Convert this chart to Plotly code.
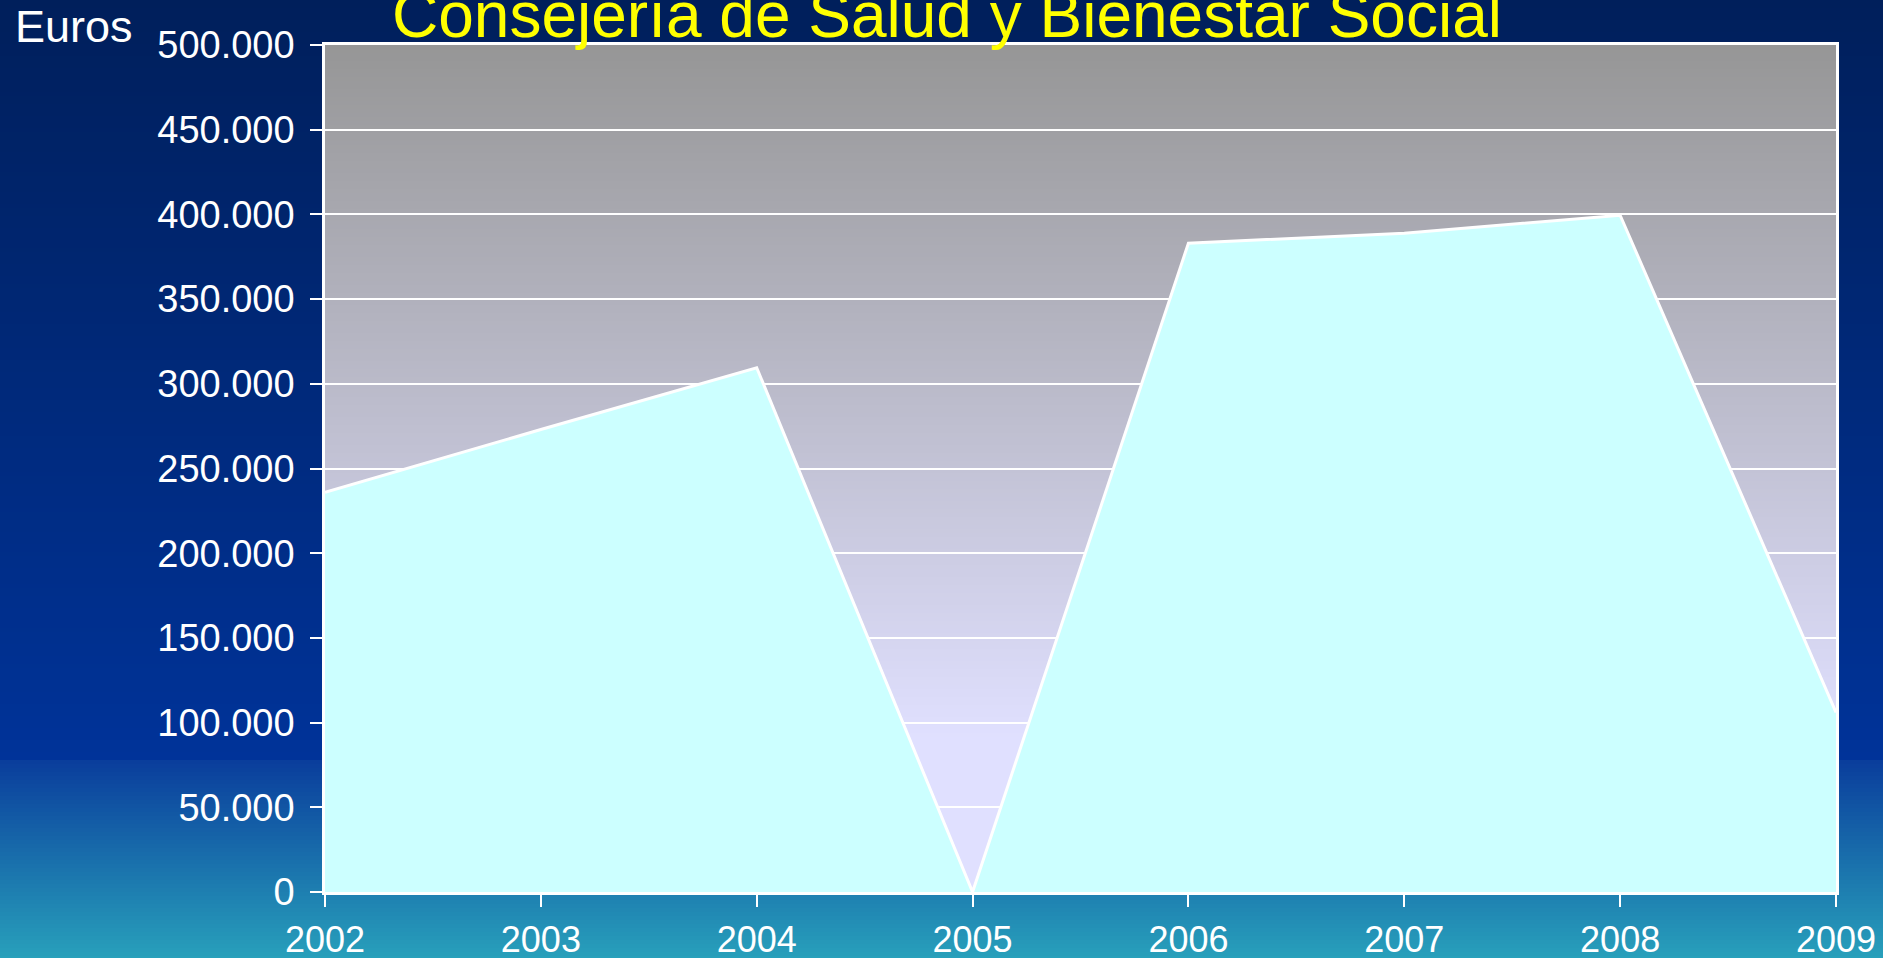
import plotly.graph_objects as go

# ---- data ----
years = [2002, 2003, 2004, 2005, 2006, 2007, 2008, 2009]
euros = [236000, 273000, 309500, 0, 383000, 388900, 399500, 106000]
y_ticks = [0, 50000, 100000, 150000, 200000, 250000, 300000, 350000, 400000, 450000, 500000]
title_text = "Consejería de Salud y Bienestar Social"
y_label = "Euros"

# ---- geometry ----
W, H = 1883, 958
ML, MR, MT, MB = 325, 47, 45, 66
PW, PH = W - ML - MR, H - MT - MB


def px_to_paper_y(py):
    return (H - MB - py) / PH


def px_to_paper_x(px):
    return (px - ML) / PW


def hex2rgb(h):
    h = h.lstrip("#")
    return tuple(int(h[i:i + 2], 16) for i in (0, 2, 4))


def interp(stops, y):
    for (y0, c0), (y1, c1) in zip(stops[:-1], stops[1:]):
        if y0 <= y <= y1:
            t = 0 if y1 == y0 else (y - y0) / (y1 - y0)
            a, b = hex2rgb(c0), hex2rgb(c1)
            return "rgb(%d,%d,%d)" % tuple(round(a[i] + (b[i] - a[i]) * t) for i in range(3))
    return stops[-1][1]


outer_stops = [(0, "#001f5b"), (760, "#003399"), (761, "#0a3d9c"), (958, "#28a0bb")]
plot_stops = [(MT, "#969696"), (MT + 0.82 * PH, "#e0e0ff"), (H - MB, "#e0e0ff")]

shapes = []
STEP = 4
for y0 in range(0, H, STEP):
    y1 = min(y0 + STEP + 2, H + 2)
    shapes.append(dict(type="rect", xref="paper", yref="paper", layer="below",
                       x0=px_to_paper_x(-2), x1=px_to_paper_x(W + 2),
                       y0=px_to_paper_y(y1), y1=px_to_paper_y(y0 if y0 > 0 else -2),
                       fillcolor=interp(outer_stops, y0 + STEP / 2), line=dict(width=0)))
for y0 in range(MT, H - MB, STEP):
    y1 = min(y0 + STEP + 2, H - MB)
    shapes.append(dict(type="rect", xref="paper", yref="paper", layer="below",
                       x0=0, x1=1,
                       y0=px_to_paper_y(y1), y1=px_to_paper_y(y0),
                       fillcolor=interp(plot_stops, y0 + STEP / 2), line=dict(width=0)))

fig = go.Figure()
fig.add_trace(go.Scatter(
    x=years, y=euros, mode="lines", fill="tozeroy",
    fillcolor="#ccffff", line=dict(color="white", width=3),
    hoverinfo="x+y", showlegend=False,
))

FONT = "Liberation Sans, Arial, sans-serif"

fig.update_layout(
    width=W, height=H,
    margin=dict(l=ML, r=MR, t=MT, b=MB, autoexpand=False),
    paper_bgcolor="#003399",
    plot_bgcolor="rgba(0,0,0,0)",
    separators=",.",
    shapes=shapes,
    showlegend=False,
    font=dict(family=FONT, color="white"),
    xaxis=dict(
        range=[years[0], years[-1]], tickvals=years, ticktext=[str(y) for y in years],
        showgrid=False, zeroline=False,
        showline=True, linecolor="white", linewidth=2.5, mirror=True,
        ticks="outside", ticklen=12, tickwidth=2, tickcolor="white",
        tickfont=dict(size=36, color="white", family=FONT),
        ticklabelstandoff=2, automargin=False,
    ),
    yaxis=dict(
        range=[0, 500000], tickvals=y_ticks, tickformat=",d",
        showgrid=True, gridcolor="white", gridwidth=2,
        zeroline=False,
        showline=True, linecolor="white", linewidth=2.5, mirror=True,
        ticks="outside", ticklen=12, tickwidth=2, tickcolor="white",
        tickfont=dict(size=38, color="white", family=FONT),
        ticklabelstandoff=8, automargin=False,
    ),
    annotations=[
        dict(text=title_text, xref="paper", yref="paper",
             x=px_to_paper_x(947), y=px_to_paper_y(53), xanchor="center", yanchor="bottom",
             showarrow=False, font=dict(size=64, color="#ffff00", family=FONT)),
        dict(text=y_label, xref="paper", yref="paper",
             x=px_to_paper_x(13), y=px_to_paper_y(54), xanchor="left", yanchor="bottom",
             showarrow=False, font=dict(size=45, color="white", family=FONT)),
    ],
)

fig.write_html(
    "out.html",
    config={"displayModeBar": False},
    post_script="document.body.style.margin='0';document.body.style.overflow='hidden';",
)
